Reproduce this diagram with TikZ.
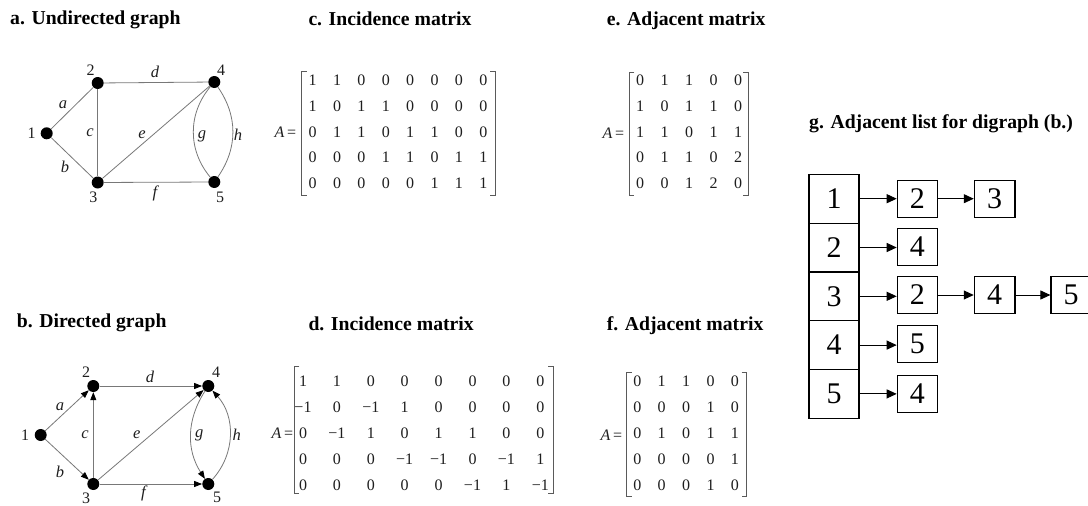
\documentclass[tikz,border=0pt]{standalone}
\usepackage{fontspec}
\setmainfont{Liberation Serif}
\usetikzlibrary{arrows.meta}
\definecolor{edgegray}{RGB}{120,120,120}
\definecolor{brkgray}{RGB}{90,90,90}
\definecolor{txt}{RGB}{30,30,30}
\begin{document}
\begin{tikzpicture}[x=1pt,y=-1pt,
  title/.style={anchor=base west,inner sep=0pt,font=\fontsize{19.7}{22}\selectfont\bfseries},
  vtx/.style={circle,fill=black,inner sep=0pt,minimum size=12pt},
  vlab/.style={inner sep=0pt,text=txt,font=\fontsize{16}{18}\selectfont},
  elab/.style={inner sep=0pt,text=txt,font=\fontsize{16.5}{18}\selectfont\itshape},
  edge/.style={draw=edgegray,line width=0.8pt},
  arc/.style={edge,-{Triangle[length=8pt,width=6pt,color=black]}},
  ent/.style={inner sep=0pt,text=txt,font=\fontsize{16}{18}\selectfont},
  brk/.style={draw=brkgray,line width=0.9pt},
  lbox/.style={draw,line width=1.2pt,inner sep=0pt,font=\fontsize{30}{32}\selectfont},
  larr/.style={line width=1pt,-{Triangle[length=10pt,width=9pt]}}
]
\useasboundingbox (0,0) rectangle (1088,506);
\fill[white] (0,0) rectangle (1088,506);
\clip (0,0) rectangle (1088,506);

% ---------- titles ----------
\node[title] (ta) at (10,24) {a. Undirected graph};
\node[title] (tc) at (308.3,25) {c. Incidence matrix};
\node[title] (te) at (606.7,25) {e. Adjacent matrix};
\node[title] (tb) at (16.7,327) {b. Directed graph};
\node[title] (td) at (308.3,330) {d. Incidence matrix};
\node[title] (tf) at (606.7,330) {f. Adjacent matrix};
\node[title] (tg) at (809,128.3) {g. Adjacent list for digraph (b.)};

% ---------- graph a ----------
\node[vtx] (a1) at (46.7,133.3) {};
\node[vtx] (a2) at (97.7,83) {};
\node[vtx] (a3) at (97.7,182.5) {};
\node[vtx] (a4) at (214.3,82) {};
\node[vtx] (a5) at (214.3,182) {};
\node[vlab] (la1) at (31.7,133) {1};
\node[vlab] (la2) at (90.7,70) {2};
\node[vlab] (la3) at (93.3,197) {3};
\node[vlab] (la4) at (221,70) {4};
\node[vlab] (la5) at (220,197) {5};
\draw[edge] (a1) -- (a2);
\draw[edge] (a1) -- (a3);
\draw[edge] (a3) -- (a2);
\draw[edge] (a2) -- (a4);
\draw[edge] (a3) -- (a4);
\draw[edge] (a3) -- (a5);
\draw[edge] (a4) to[bend right=40] (a5);
\draw[edge] (a4) to[bend left=35] (a5);
\node[elab] (ea) at (63,105) {a};
\node[elab] (eb) at (65,167) {b};
\node[elab] (ec) at (90,133) {c};
\node[elab] (ed) at (155,72) {d};
\node[elab] (ee) at (142,135) {e};
\node[elab] (ef) at (155,193) {f};
\node[elab] (eg) at (202,136) {g};
\node[elab] (eh) at (238,135) {h};

% ---------- graph b ----------
\node[vtx] (b1) at (40.7,435) {};
\node[vtx] (b2) at (93.3,386) {};
\node[vtx] (b3) at (93.3,484) {};
\node[vtx] (b4) at (208.3,386) {};
\node[vtx] (b5) at (208.3,484) {};
\node[vlab] (lb1) at (25,435) {1};
\node[vlab] (lb2) at (86,372) {2};
\node[vlab] (lb3) at (86,498) {3};
\node[vlab] (lb4) at (216,372) {4};
\node[vlab] (lb5) at (217,497) {5};
\draw[arc] (b1) -- (b2);
\draw[arc] (b1) -- (b3);
\draw[arc] (b3) -- (b2);
\draw[arc] (b2) -- (b4);
\draw[arc] (b3) -- (b4);
\draw[arc] (b3) -- (b5);
\draw[arc] (b4) to[bend right=33] (b5);
\draw[arc] (b5) to[bend right=42] (b4);
\node[elab] (fa) at (60,406.7) {a};
\node[elab] (fb) at (60,471.7) {b};
\node[elab] (fc) at (85,435) {c};
\node[elab] (fd) at (150,376.7) {d};
\node[elab] (fe) at (136.7,435) {e};
\node[elab] (ff) at (143.3,493.3) {f};
\node[elab] (fg) at (199.3,435) {g};
\node[elab] (fh) at (236.7,435) {h};

% ---------- matrix c ----------
\node[ent] (Ac) at (285.5,132.7) {\textit{A}\,=};
\draw[brk] (306.7,71.7) -- (301.7,71.7) -- (301.7,195) -- (306.7,195);
\draw[brk] (490,71.7) -- (495,71.7) -- (495,195) -- (490,195);
\foreach \row [count=\i from 0] in {{1,1,0,0,0,0,0,0},{1,0,1,1,0,0,0,0},{0,1,1,0,1,1,0,0},{0,0,0,1,1,0,1,1},{0,0,0,0,0,1,1,1}}{
  \foreach \v [count=\j from 0] in \row {
    \node[ent] (c-\i-\j) at ({312.7+24.37*\j},{80.7+25.65*\i}) {\v};
  }
}

% ---------- matrix e ----------
\node[ent] (Ae) at (613.3,133.3) {\textit{A}\,=};
\draw[brk] (634.3,72.7) -- (629.3,72.7) -- (629.3,195) -- (634.3,195);
\draw[brk] (743,72.7) -- (748,72.7) -- (748,195) -- (743,195);
\foreach \row [count=\i from 0] in {{0,1,1,0,0},{1,0,1,1,0},{1,1,0,1,1},{0,1,1,0,2},{0,0,1,2,0}}{
  \foreach \v [count=\j from 0] in \row {
    \node[ent] (e-\i-\j) at ({640+24.5*\j},{80.7+25.65*\i}) {\v};
  }
}

% ---------- matrix d ----------
\node[ent] (Ad) at (282.3,433.3) {\textit{A}\,=};
\draw[brk] (299.3,366) -- (294.3,366) -- (294.3,493.3) -- (299.3,493.3);
\draw[brk] (548.3,366) -- (553.3,366) -- (553.3,493.3) -- (548.3,493.3);
\foreach \row [count=\i from 0] in {{1,1,0,0,0,0,0,0},{−1,0,−1,1,0,0,0,0},{0,−1,1,0,1,1,0,0},{0,0,0,−1,−1,0,−1,1},{0,0,0,0,0,−1,1,−1}}{
  \foreach \v [count=\j from 0] in \row {
    \node[ent] (d-\i-\j) at ({303+33.9*\j},{381+26*\i}) {\v};
  }
}

% ---------- matrix f ----------
\node[ent] (Af) at (611.3,435) {\textit{A}\,=};
\draw[brk] (631.7,372.7) -- (626.7,372.7) -- (626.7,496) -- (631.7,496);
\draw[brk] (741.7,372.7) -- (746.7,372.7) -- (746.7,496) -- (741.7,496);
\foreach \row [count=\i from 0] in {{0,1,1,0,0},{0,0,0,1,0},{0,1,0,1,1},{0,0,0,0,1},{0,0,0,1,0}}{
  \foreach \v [count=\j from 0] in \row {
    \node[ent] (f-\i-\j) at ({637.3+24.4*\j},{381.7+25.8*\i}) {\v};
  }
}

% ---------- adjacency list ----------
\foreach \k/\y in {1/198.7,2/247.5,3/296.3,4/345.1,5/393.9}{
  \node[lbox,minimum width=50pt,minimum height=48.8pt] (m\k) at (834,\y) {\k};
}
\node[lbox,minimum width=40pt,minimum height=37pt] (s1) at (917.3,198.7) {2};
\node[lbox,minimum width=40pt,minimum height=37pt] (s2) at (917.3,246.7) {4};
\node[lbox,minimum width=40pt,minimum height=37pt] (s3) at (917.3,295) {2};
\node[lbox,minimum width=40pt,minimum height=37pt] (s4) at (917.3,343.8) {5};
\node[lbox,minimum width=40pt,minimum height=37pt] (s5) at (917.3,393.8) {4};
\node[lbox,minimum width=40.7pt,minimum height=37pt] (t1) at (994.7,198.7) {3};
\node[lbox,minimum width=40.7pt,minimum height=37pt] (t3) at (994.7,295) {4};
\node[lbox,minimum width=40pt,minimum height=37pt] (u3) at (1071,295) {5};
\foreach \k in {1,...,5}{
  \draw[larr] (m\k.east) -- (m\k.east -| s\k.west);
}
\draw[larr] (s1) -- (t1);
\draw[larr] (s3) -- (t3);
\draw[larr] (t3) -- (u3);
\end{tikzpicture}
\end{document}
